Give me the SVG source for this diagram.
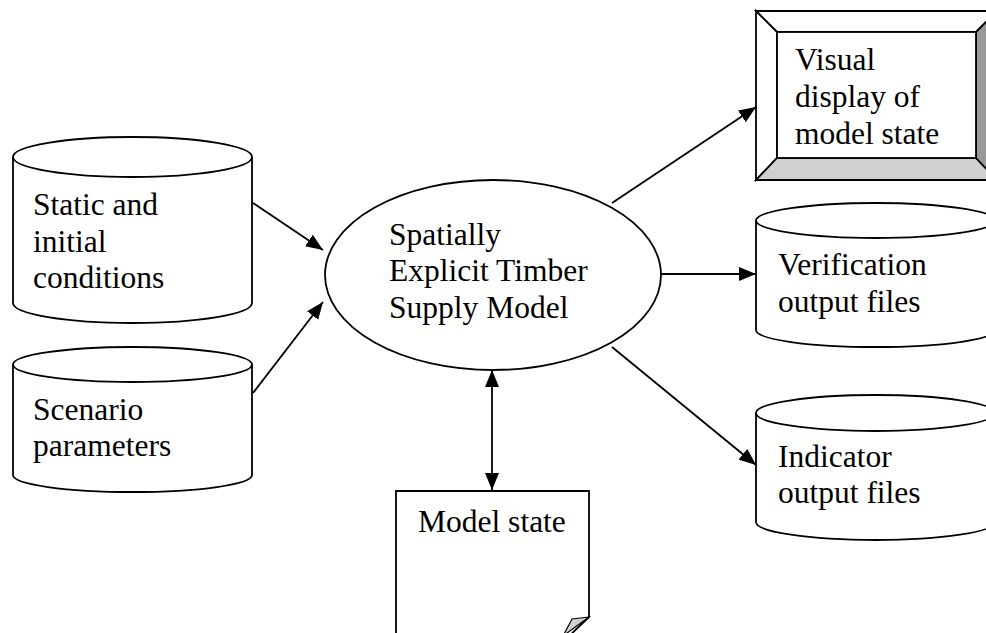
<svg xmlns="http://www.w3.org/2000/svg" width="986" height="633" viewBox="0 0 986 633">
<defs>
<marker id="ah" markerUnits="userSpaceOnUse" markerWidth="18" markerHeight="15" refX="17" refY="7" orient="auto-start-reverse" viewBox="0 0 18 14">
<path d="M0,0 L17,7 L0,14 z" fill="#000"/>
</marker>
<style>
.s{fill:#fff;stroke:#000;stroke-width:1.8}
.t{font-family:"Liberation Serif","Times New Roman",serif;font-size:31.5px;fill:#000}
.c{stroke:#000;stroke-width:1.8;fill:none}
</style>
</defs>
<rect width="986" height="633" fill="#fff"/>
<g id="static">
<path class="s" d="M13,157 V303 A119.5,20 0 0 0 252,303 V157"/>
<ellipse class="s" cx="132.5" cy="157" rx="119.5" ry="20"/>
<text class="t"><tspan x="33" y="215">Static and</tspan><tspan x="33" y="252">initial</tspan><tspan x="33" y="288">conditions</tspan></text>
</g>
<g id="scenario">
<path class="s" d="M13,364.5 V475 A119.5,17 0 0 0 252,475 V364.5"/>
<ellipse class="s" cx="132.5" cy="364.5" rx="119.5" ry="17.5"/>
<text class="t"><tspan x="33" y="420">Scenario</tspan><tspan x="33" y="456">parameters</tspan></text>
</g>
<g id="model">
<ellipse class="s" cx="493" cy="275" rx="168" ry="95"/>
<text class="t"><tspan x="389" y="245">Spatially</tspan><tspan x="389" y="281">Explicit Timber</tspan><tspan x="389" y="318">Supply Model</tspan></text>
</g>
<g id="visual">
<polygon points="756,11 997,11 976,32 777,32" fill="#fff" stroke="#000" stroke-width="1.8"/>
<polygon points="756,11 777,32 777,158 756,180" fill="#fff" stroke="#000" stroke-width="1.8"/>
<polygon points="756,180 777,158 976,158 997,180" fill="#d0d0d0" stroke="#000" stroke-width="1.8"/>
<polygon points="997,11 976,32 976,158 997,180" fill="#999" stroke="#000" stroke-width="1.8"/>
<rect x="777" y="32" width="199" height="126" fill="#fff" stroke="#000" stroke-width="1.8"/>
<text class="t"><tspan x="795" y="70">Visual</tspan><tspan x="795" y="107">display of</tspan><tspan x="795" y="144">model state</tspan></text>
</g>
<g id="verification">
<path class="s" d="M756,220.5 V330 A119.5,17 0 0 0 995,330 V220.5"/>
<ellipse class="s" cx="875.5" cy="220.5" rx="119.5" ry="17.5"/>
<text class="t"><tspan x="778" y="275">Verification</tspan><tspan x="778" y="312">output files</tspan></text>
</g>
<g id="indicator">
<path class="s" d="M756,413 V522 A119.5,18 0 0 0 995,522 V413"/>
<ellipse class="s" cx="875.5" cy="413" rx="119.5" ry="18"/>
<text class="t"><tspan x="778" y="467">Indicator</tspan><tspan x="778" y="503">output files</tspan></text>
</g>
<g id="state">
<path class="s" d="M396,645 V491 H589 V617 L565,640"/>
<polygon points="589,617 572,619 563,636" fill="#d0d0d0" stroke="#000" stroke-width="1.2"/>
<text class="t" x="418" y="532">Model state</text>
</g>
<g id="connectors">
<line class="c" x1="253" y1="203" x2="323" y2="250" marker-end="url(#ah)"/>
<line class="c" x1="253" y1="393" x2="323" y2="302" marker-end="url(#ah)"/>
<line class="c" x1="612" y1="203" x2="756" y2="107" marker-end="url(#ah)"/>
<line class="c" x1="661" y1="274" x2="756" y2="274" marker-end="url(#ah)"/>
<line class="c" x1="612" y1="347" x2="756" y2="465" marker-end="url(#ah)"/>
<line class="c" x1="492" y1="370" x2="492" y2="490" marker-start="url(#ah)" marker-end="url(#ah)"/>
</g>
</svg>
